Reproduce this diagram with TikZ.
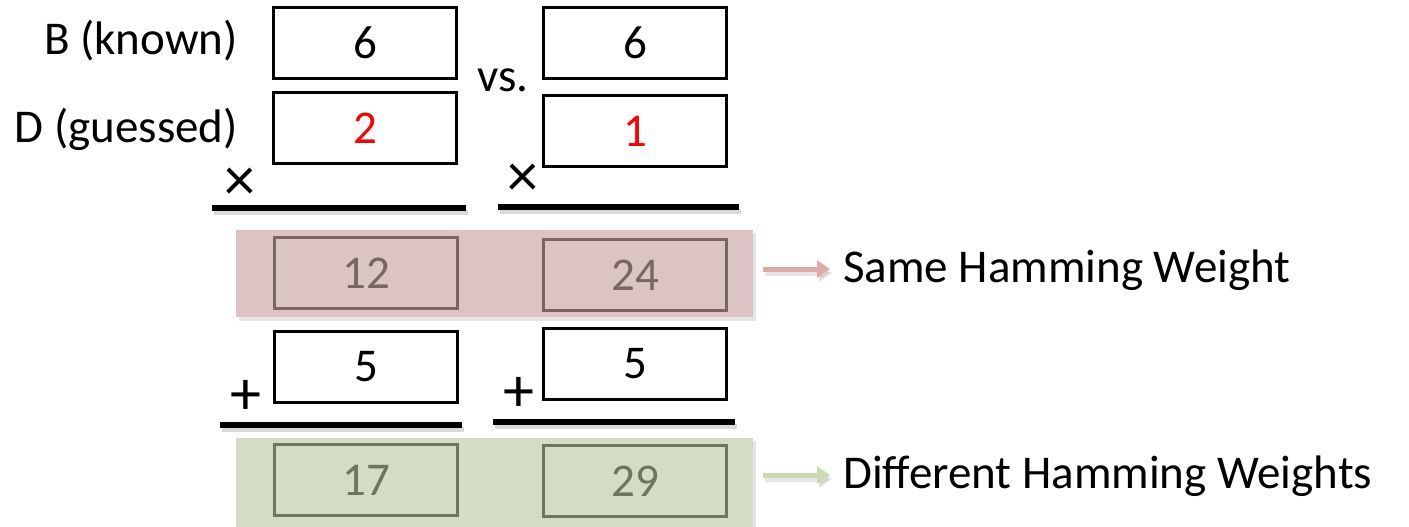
\documentclass[tikz,border=0pt]{standalone}
\usepackage{fontspec}
\setmainfont{Carlito}
\usetikzlibrary{arrows.meta}
\definecolor{pinkband}{HTML}{DCC4C4}
\definecolor{pinkedge}{HTML}{7A6464}
\definecolor{greenband}{HTML}{D4DCC6}
\definecolor{greenedge}{HTML}{6E7462}
\definecolor{numred}{HTML}{FF0000}
\definecolor{pinkarrow}{HTML}{E2A9A9}
\definecolor{greenarrow}{HTML}{C9D9B3}
\tikzset{
  bigfont/.style={font=\fontsize{47}{56}\selectfont},
  opfont/.style={font=\fontsize{62}{70}\selectfont},
  numbox/.style={draw=black, line width=2.5pt, minimum width=183pt,
    minimum height=71pt, inner sep=0pt, bigfont},
  pinknum/.style={numbox, draw=pinkedge, text=pinkedge},
  greennum/.style={numbox, draw=greenedge, text=greenedge},
  band/.style={inner sep=0pt, minimum width=517pt},
  rule/.style={line width=5.5pt},
  ruleshadow/.style={line width=5pt, black, opacity=0.15},
  label/.style={inner sep=0pt, bigfont},
  opsign/.style={inner sep=0pt, opfont},
  hwarrow/.style={line width=5pt, -{Triangle[length=13pt,width=17pt]}},
  arrowshadow/.style={line width=5pt, black, opacity=0.10, -{Triangle[length=13pt,width=17pt]}}
}
\begin{document}
\begin{tikzpicture}[x=1pt, y=-1pt]
  \useasboundingbox (0,0) rectangle (1409,527);

  % coloured bands behind the intermediate results
  \fill[black, opacity=0.10] (239,233) rectangle (756,321);
  \node[band, fill=pinkband, minimum height=87pt] (prodband) at (494.5,273.5) {};
  \fill[black, opacity=0.10] (239,441) rectangle (756,530);
  \node[band, fill=greenband, minimum height=89pt] (sumband) at (494.5,482.5) {};

  % operands
  \node[numbox] (b1) at (365,43) {6};
  \node[numbox] (d1) at (365,128) {\textcolor{numred}{2}};
  \node[numbox] (b2) at (635,43) {6};
  \node[numbox] (d2) at (635,131) {\textcolor{numred}{1}};

  \node[label, anchor=base east] (blabel) at (238,55) {B (known)};
  \node[label, anchor=base east] (dlabel) at (238,142) {D (guessed)};
  \node[label, anchor=base] (vs) at (503,92) {vs.};

  % multiplication
  \node[opsign] (times1) at (240,184) {×};
  \node[opsign] (times2) at (523,180) {×};
  \draw[ruleshadow] (214,212) -- (468,212);
  \draw[rule] (212,208) -- (466,208);
  \draw[ruleshadow] (500,211) -- (741,211);
  \draw[rule] (498,207) -- (739,207);

  \node[pinknum] (p1) at (366,273) {12};
  \node[pinknum] (p2) at (635,275) {24};

  % addition
  \node[numbox] (a1) at (366,367) {5};
  \node[numbox] (a2) at (635,364) {5};
  \node[opsign] (plus1) at (246,397) {+};
  \node[opsign] (plus2) at (519,394) {+};
  \draw[ruleshadow] (222,429) -- (464,429);
  \draw[rule] (220,425) -- (462,425);
  \draw[ruleshadow] (495,426) -- (737,426);
  \draw[rule] (493,422) -- (735,422);

  \node[greennum] (s1) at (366,480) {17};
  \node[greennum] (s2) at (635,481) {29};

  % conclusions
  \node[label, anchor=base west] (same) at (843,282) {Same Hamming Weight};
  \node[label, anchor=base west] (diff) at (843,488) {Different Hamming Weights};

  \coordinate (samestart) at (763,269);
  \coordinate (diffstart) at (763,475);
  \draw[arrowshadow, shorten >=13pt] ([shift={(2,4)}]samestart) -- ([shift={(2,4)}]samestart -| same.west);
  \draw[hwarrow, pinkarrow, shorten >=13pt] (samestart) -- (samestart -| same.west);
  \draw[arrowshadow, shorten >=13pt] ([shift={(2,4)}]diffstart) -- ([shift={(2,4)}]diffstart -| diff.west);
  \draw[hwarrow, greenarrow, shorten >=13pt] (diffstart) -- (diffstart -| diff.west);
\end{tikzpicture}
\end{document}
